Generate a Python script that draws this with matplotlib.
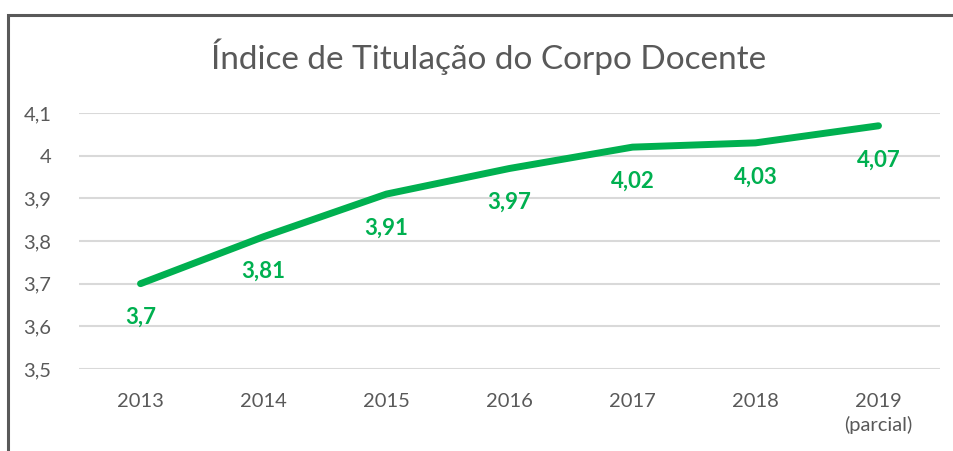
import matplotlib.pyplot as plt
from matplotlib.patches import Rectangle

anos = ['2013', '2014', '2015', '2016', '2017', '2018', '2019\n(parcial)']
indice = [3.70, 3.81, 3.91, 3.97, 4.02, 4.03, 4.07]
rotulos = ['3,7', '3,81', '3,91', '3,97', '4,02', '4,03', '4,07']
yticks = [3.5, 3.6, 3.7, 3.8, 3.9, 4.0, 4.1]
ytick_labels = ['3,5', '3,6', '3,7', '3,8', '3,9', '4', '4,1']

verde = '#00B050'
cinza = '#595959'

plt.rcParams['font.family'] = ['Lato', 'DejaVu Sans']

fig = plt.figure(figsize=(9.54, 4.51), dpi=100)
ax = fig.add_axes([79 / 954, 1 - 369 / 451, 861 / 954, 256 / 451])

# moldura do gráfico
fig.patches.append(Rectangle(
    (8.5 / 954, -0.1), 1.0, (451 - 14.5) / 451 + 0.1,
    transform=fig.transFigure, fill=False, edgecolor='#595959',
    linewidth=2.2
))

x = list(range(len(anos)))
ax.plot(x, indice, color=verde, linewidth=5, solid_capstyle='round')
for xi, yi, txt in zip(x, indice, rotulos):
    ax.annotate(txt, (xi, yi), xytext=(0, -34), textcoords='offset pixels',
                ha='center', va='center', color=verde, fontsize=16,
                fontweight='bold')

ax.set_xlim(-0.5, len(anos) - 0.5)
ax.set_ylim(3.5, 4.1)
ax.set_yticks(yticks)
ax.set_yticklabels(ytick_labels)
ax.set_xticks(x)
ax.set_xticklabels(anos, linespacing=1.45, va='top')
ax.grid(axis='y', color='#D9D9D9', linewidth=1.5)
ax.set_axisbelow(True)
for s in ax.spines.values():
    s.set_visible(False)
ax.tick_params(length=0, labelsize=14.5, labelcolor=cinza)
ax.tick_params(axis='y', pad=20)
ax.tick_params(axis='x', pad=17)

fig.text(489 / 954, 1 - 57 / 451, 'Índice de Titulação do Corpo Docente',
         ha='center', va='center', fontsize=24, color=cinza)

fig.savefig('out.png', dpi=100)
